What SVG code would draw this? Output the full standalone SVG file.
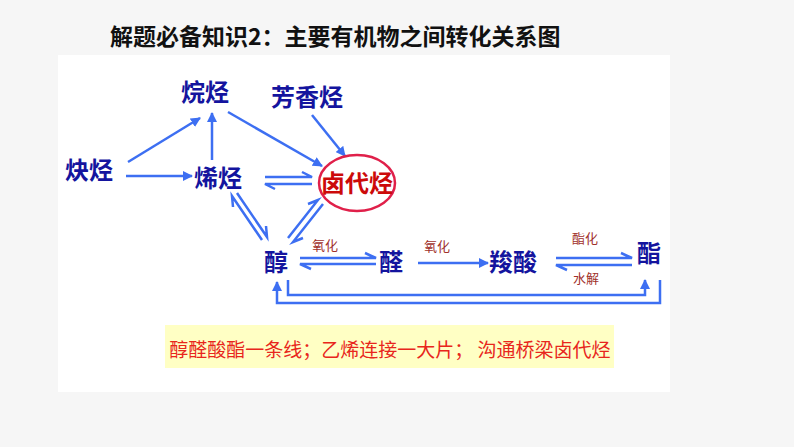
<svg xmlns="http://www.w3.org/2000/svg" width="794" height="447" viewBox="0 0 794 447">
<style>
.n{font-family:"Noto Sans CJK SC",sans-serif;font-weight:bold;font-size:24px;fill:#14149e;text-anchor:middle}
.l{font-family:"Noto Sans CJK SC",sans-serif;font-size:13px;fill:#a0302a;text-anchor:middle}
.c{stroke:#3d6ff2;stroke-width:2.5;fill:none}
</style>
<defs>
<marker id="a" viewBox="0 0 10 10" refX="9" refY="5" markerWidth="4" markerHeight="4" orient="auto"><path d="M0,0L10,5L0,10z" fill="#3d6ff2"/></marker>
</defs>
<rect width="794" height="447" fill="#f6f6f6"/>
<rect x="58" y="55" width="612" height="337" fill="#fff"/>
<text x="110" y="45" font-family="Noto Sans CJK SC,sans-serif" font-weight="bold" font-size="23" fill="#111">解题必备知识2：主要有机物之间转化关系图</text>
<g id="connectors" class="c">
<line x1="128" y1="162" x2="200" y2="118" marker-end="url(#a)"/>
<line x1="126" y1="176" x2="192" y2="176" marker-end="url(#a)"/>
<line x1="212" y1="160" x2="212" y2="113" marker-end="url(#a)"/>
<line x1="228" y1="112" x2="322" y2="166" marker-end="url(#a)"/>
<line x1="312" y1="115" x2="345" y2="156" marker-end="url(#a)"/>
<polyline points="265,177 312,177 302,172"/>
<polyline points="312,184 265,184 275,189"/>
<polyline points="237,193 267,237 266,226"/>
<polyline points="262,240 232,196 233,207"/>
<polyline points="288,238 318,200 308,204"/>
<polyline points="323,204 293,242 303,238"/>
<polyline points="300,258 376,258 365,253"/>
<polyline points="376,264 300,264 311,269"/>
<line x1="418" y1="263" x2="488" y2="263" marker-end="url(#a)"/>
<polyline points="556,258 632,258 621,253"/>
<polyline points="632,265 556,265 567,270"/>
<polyline points="288,280 288,295 645,295 645,280" marker-end="url(#a)"/>
<polyline points="660,280 660,303 277,303 277,282" marker-end="url(#a)"/>
</g>
<g id="n-alkane"><text class="n" x="205" y="101">烷烃</text></g>
<g id="n-aromatic"><text class="n" x="307" y="106">芳香烃</text></g>
<g id="n-alkyne"><text class="n" x="89" y="179">炔烃</text></g>
<g id="n-alkene"><text class="n" x="218" y="187">烯烃</text></g>
<g id="n-halide"><ellipse cx="357" cy="183" rx="38" ry="28" fill="#fff" stroke="#e0204a" stroke-width="2.5"/><text class="n" x="357" y="192" style="fill:#cc0a0a">卤代烃</text></g>
<g id="n-alcohol"><text class="n" x="276" y="271">醇</text></g>
<g id="n-aldehyde"><text class="n" x="391" y="271">醛</text></g>
<g id="n-acid"><text class="n" x="513" y="271">羧酸</text></g>
<g id="n-ester"><text class="n" x="649" y="262">酯</text></g>
<g id="labels">
<text class="l" x="325" y="250">氧化</text>
<text class="l" x="437" y="251">氧化</text>
<text class="l" x="585" y="243">酯化</text>
<text class="l" x="586" y="283">水解</text>
</g>
<g id="note"><rect x="165" y="325" width="449" height="43" fill="#ffffc4"/>
<text x="390" y="357" text-anchor="middle" font-family="Noto Sans CJK SC,sans-serif" font-size="19" fill="#e8261c">醇醛酸酯一条线；乙烯连接一大片； 沟通桥梁卤代烃</text></g>
</svg>
